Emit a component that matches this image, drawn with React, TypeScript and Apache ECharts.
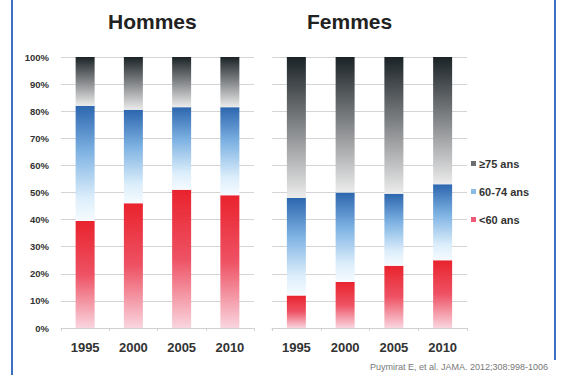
import React, { useEffect, useRef } from "react";
import * as echarts from "echarts";

const years = ["1995", "2000", "2005", "2010"];
const seriesNames = ["<60 ans", "60-74 ans", "≥75 ans"];
const yTicks = [0, 10, 20, 30, 40, 50, 60, 70, 80, 90, 100];

const hommesUnder60 = [39.5, 46, 51, 49];
const hommes60to74 = [42.5, 34.5, 30.5, 32.5];
const hommes75plus = [18, 19.5, 18.5, 18.5];

const femmesUnder60 = [12, 17, 23, 25];
const femmes60to74 = [36, 33, 26.5, 28];
const femmes75plus = [52, 50, 50.5, 47];

const FONT = "Liberation Sans, Arial, sans-serif";

const grad = (stops: [number, string][]) =>
  new echarts.graphic.LinearGradient(
    0,
    0,
    0,
    1,
    stops.map(([offset, color]) => ({ offset, color }))
  );

const redGrad = () =>
  grad([
    [0, "#e9232d"],
    [0.5, "#ee5264"],
    [1, "#f9d5df"],
  ]);
const blueGrad = () =>
  grad([
    [0, "#2c66ae"],
    [0.4, "#7fb3e3"],
    [0.8, "#dceefb"],
    [1, "#f6fbff"],
  ]);
const darkGrad = () =>
  grad([
    [0, "#1b2327"],
    [0.45, "#7a7d80"],
    [1, "#ececec"],
  ]);

export default function App() {
  const ref = useRef<HTMLDivElement>(null);
  useEffect(() => {
    if (!ref.current) return;
    const chart = echarts.init(ref.current, null, { renderer: "svg" });
    const yAxisCommon = (gridIndex: number, showLabels: boolean) => ({
      type: "value",
      gridIndex,
      min: 0,
      max: 100,
      interval: 10,
      axisLine: { show: false },
      axisTick: { show: false },
      axisLabel: {
        show: showLabels,
        formatter: (v: number) => (yTicks.includes(v) ? v + "%" : ""),
        color: "#333",
        fontWeight: "bold",
        fontSize: 9.5,
        fontFamily: FONT,
        margin: 12,
      },
      splitLine: { lineStyle: { color: "#d4d4d4", width: 1 } },
    });
    const xAxisCommon = (gridIndex: number) => ({
      type: "category",
      gridIndex,
      data: years,
      axisLine: { lineStyle: { color: "#d0d0d0" } },
      axisTick: { show: true, length: 3, lineStyle: { color: "#d0d0d0" } },
      axisLabel: {
        color: "#333",
        fontWeight: "bold",
        fontSize: 13,
        fontFamily: FONT,
        margin: 13,
      },
    });
    const bar = (
      name: string,
      data: number[],
      idx: number,
      stack: string,
      color: any
    ) => ({
      name,
      type: "bar",
      stack,
      xAxisIndex: idx,
      yAxisIndex: idx,
      data,
      barWidth: 19,
      itemStyle: { color },
    });
    chart.setOption({
      animation: false,
      backgroundColor: "#ffffff",
      grid: [
        { left: 61, top: 57, width: 193, height: 271 },
        { left: 272, top: 57, width: 195, height: 271 },
      ],
      xAxis: [xAxisCommon(0), xAxisCommon(1)],
      yAxis: [yAxisCommon(0, true), yAxisCommon(1, false)],
      legend: {
        orient: "vertical",
        left: 466,
        top: 153,
        itemWidth: 5,
        itemHeight: 5,
        itemGap: 17,
        icon: "rect",
        textStyle: {
          color: "#333",
          fontWeight: "bold",
          fontSize: 11,
          fontFamily: FONT,
          padding: [0, 0, 0, -2],
        },
        data: [
          { name: seriesNames[2], itemStyle: { color: "#6b6e72" } },
          { name: seriesNames[1], itemStyle: { color: "#8bbbe6" } },
          { name: seriesNames[0], itemStyle: { color: "#ee5a78" } },
        ],
      },
      series: [
        bar(seriesNames[0], hommesUnder60, 0, "h", redGrad()),
        bar(seriesNames[1], hommes60to74, 0, "h", blueGrad()),
        bar(seriesNames[2], hommes75plus, 0, "h", darkGrad()),
        bar(seriesNames[0], femmesUnder60, 1, "f", redGrad()),
        bar(seriesNames[1], femmes60to74, 1, "f", blueGrad()),
        bar(seriesNames[2], femmes75plus, 1, "f", darkGrad()),
      ],
      graphic: [
        {
          type: "text",
          left: 108,
          top: 11,
          style: {
            text: "Hommes",
            fontSize: 21,
            fontWeight: "bold",
            fontFamily: FONT,
            fill: "#222",
          },
        },
        {
          type: "text",
          left: 307,
          top: 11,
          style: {
            text: "Femmes",
            fontSize: 21,
            fontWeight: "bold",
            fontFamily: FONT,
            fill: "#222",
          },
        },
        {
          type: "text",
          left: 370,
          top: 362,
          style: {
            text: "Puymirat E, et al. JAMA. 2012;308:998-1006",
            fontSize: 9,
            fontFamily: FONT,
            fill: "#777",
          },
        },
        {
          type: "line",
          shape: { x1: 12, y1: 0, x2: 12, y2: 375 },
          style: { stroke: "#3b6fc2", lineWidth: 2 },
        },
        {
          type: "line",
          shape: { x1: 555, y1: 0, x2: 555, y2: 360 },
          style: { stroke: "#3b6fc2", lineWidth: 2 },
        },
      ],
    });
    return () => chart.dispose();
  }, []);
  return (
    <div
      ref={ref}
      style={{ position: "fixed", left: 0, top: 0, width: 567, height: 375 }}
    />
  );
}
